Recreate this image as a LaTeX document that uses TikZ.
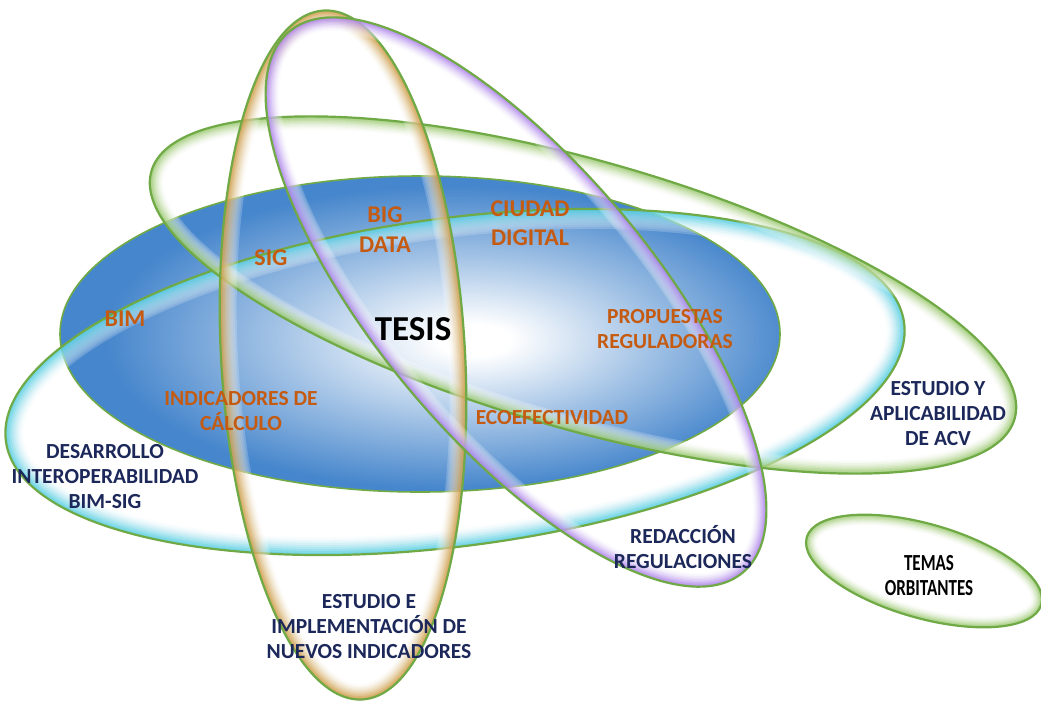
\documentclass[tikz,border=0pt]{standalone}
\usepackage{fontspec}
\setmainfont{Carlito}
\newfontfamily\condfont{Carlito}[FakeStretch=0.74]
\definecolor{rimgreen}{RGB}{112,170,70}
\definecolor{tblue}{RGB}{70,134,204}
\definecolor{glowcyan}{RGB}{60,200,222}
\definecolor{glowgreen}{RGB}{140,195,90}
\definecolor{glowgold}{RGB}{200,140,40}
\definecolor{glowpurple}{RGB}{160,110,232}
\definecolor{txtorange}{RGB}{197,90,17}
\definecolor{txtnavy}{RGB}{28,40,90}
\pgfdeclareradialshading{tesisshade}{\pgfpoint{4bp}{-1bp}}{color(0bp)=(white); color(2.5bp)=(white); color(13bp)=(tblue!50!white); color(24bp)=(tblue); color(50bp)=(tblue)}
\newcommand\glowring[6]{%
  \begin{scope}[shift={(#1)},rotate=#4]
    \begin{scope}
      \clip (0,0) ellipse [x radius=#2pt,y radius=#3pt];
      \foreach \w/\p/\o in {2/0/0.20,1.8/15/0.16,1.6/30/0.16,1.4/45/0.16,1.2/60/0.17,1.0/70/0.18,0.8/80/0.2,0.6/90/0.22,0.4/100/0.24,0.2/100/0.28}
        \draw[line width=\w*#6pt, draw=#5!\p!white, opacity=\o] (0,0) ellipse [x radius=#2pt,y radius=#3pt];
    \end{scope}
    \draw[rim] (0,0) ellipse [x radius=#2pt,y radius=#3pt];
  \end{scope}}
\tikzset{
  rim/.style={draw=rimgreen, line width=2.2pt},
  lblo/.style={text=txtorange, align=center, font=\fontsize{21.5}{25}\selectfont\bfseries},
  lblbig/.style={text=txtorange, align=center, font=\fontsize{24}{29.5}\selectfont\bfseries},
  lbln/.style={text=txtnavy, align=center, font=\fontsize{21.5}{25}\selectfont\bfseries},
  lblc/.style={text=black, align=center, font=\condfont\fontsize{23}{25}\selectfont\bfseries},
}
\begin{document}
\begin{tikzpicture}[x=1pt,y=-1pt]
\useasboundingbox (0,0) rectangle (1041,702);
\fill[white] (0,0) rectangle (1041,702);
\clip (0,0) rectangle (1041,702);
% central filled ellipse
\fill[shading=tesisshade] (420,334) ellipse [x radius=360pt, y radius=158pt];
\draw[draw=rimgreen, line width=1.6pt] (420,334) ellipse [x radius=360pt, y radius=158pt];
% orbit ellipses
\glowring{455,382}{453}{164}{7.5}{glowcyan}{20}
\glowring{583,295}{449}{134}{-16}{glowgreen}{15}
\glowring{343,355}{122}{345}{3.2}{glowgold}{17}
\glowring{516,302}{353}{138}{-50}{glowpurple}{15}
\glowring{924,571}{122}{47}{-16}{glowgreen}{12}
% labels
\node[font=\fontsize{35}{40}\selectfont\bfseries] (tesis) at (413,329) {TESIS};
\node[lblbig] (bim) at (125,319) {BIM};
\node[lblbig] (sig) at (271,258) {SIG};
\node[lblbig] (bigdata) at (385,229.5) {BIG\\DATA};
\node[lblbig] (ciudad) at (530,223) {CIUDAD\\DIGITAL};
\node[lblo] (prop) at (665,329) {PROPUESTAS\\REGULADORAS};
\node[lblo] (eco) at (552,418) {ECOEFECTIVIDAD};
\node[lblo] (indic) at (241,411) {INDICADORES DE\\CÁLCULO};
\node[lbln] (desa) at (105,477) {DESARROLLO\\INTEROPERABILIDAD\\BIM-SIG};
\node[lbln] (acv) at (938,414) {ESTUDIO Y\\APLICABILIDAD\\DE ACV};
\node[lbln] (redac) at (683,547) {REDACCIÓN\\REGULACIONES};
\node[lbln] (estud) at (369,627) {ESTUDIO E\\IMPLEMENTACIÓN DE\\NUEVOS INDICADORES};
\node[lblc] (temas) at (929,576) {TEMAS\\ORBITANTES};
\end{tikzpicture}
\end{document}
